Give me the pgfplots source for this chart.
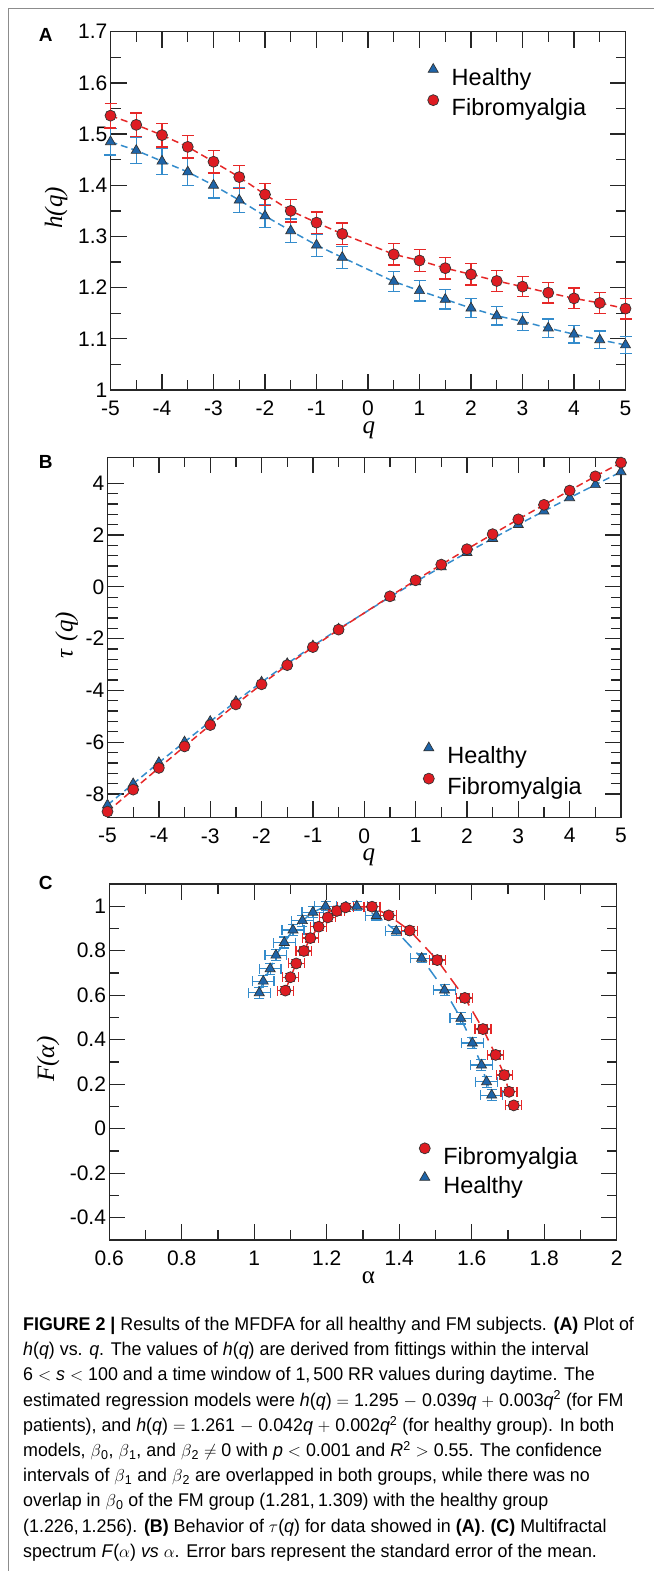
\documentclass[border=0pt]{standalone}
\usepackage{pgfplots}
\pgfplotsset{compat=1.18}
\usepackage{pgfplotstable}
\usepackage{fontspec}
\setmainfont{Liberation Sans}
\newfontfamily\serifit{Liberation Serif}
\newfontfamily\capfont{Liberation Sans}[FakeStretch=0.97]

\definecolor{redF}{RGB}{222,28,34}
\definecolor{redL}{RGB}{230,40,40}
\definecolor{blueF}{RGB}{30,100,168}
\definecolor{blueL}{RGB}{52,140,204}
\definecolor{framegray}{RGB}{140,140,140}

% Panel A: h(q)
\pgfplotstableread{
q h e
-5 1.485 0.026
-4.5 1.468 0.026
-4 1.447 0.026
-3.5 1.426 0.026
-3 1.400 0.025
-2.5 1.371 0.024
-2 1.340 0.023
-1.5 1.311 0.023
-1 1.283 0.022
-0.5 1.259 0.021
0.5 1.212 0.020
1 1.194 0.020
1.5 1.177 0.019
2 1.160 0.019
2.5 1.145 0.018
3 1.134 0.018
3.5 1.121 0.018
4 1.109 0.017
4.5 1.098 0.017
5 1.088 0.017
}\hA
\pgfplotstableread{
q h e
-5 1.536 0.024
-4.5 1.518 0.023
-4 1.498 0.023
-3.5 1.475 0.022
-3 1.446 0.022
-2.5 1.416 0.022
-2 1.382 0.022
-1.5 1.350 0.022
-1 1.327 0.021
-0.5 1.305 0.021
0.5 1.265 0.021
1 1.253 0.021
1.5 1.238 0.021
2 1.226 0.021
2.5 1.213 0.021
3 1.202 0.020
3.5 1.190 0.020
4 1.179 0.020
4.5 1.170 0.020
5 1.159 0.020
}\fA
% Panel B: tau(q)
\pgfplotstableread{
q t
-5 -8.425
-4.5 -7.606
-4 -6.788
-3.5 -5.991
-3 -5.200
-2.5 -4.428
-2 -3.680
-1.5 -2.967
-1 -2.283
-0.5 -1.630
0.5 -0.394
1 0.194
1.5 0.766
2 1.320
2.5 1.863
3 2.402
3.5 2.924
4 3.436
4.5 3.941
5 4.440
}\hB
\pgfplotstableread{
q t
-5 -8.680
-4.5 -7.831
-4 -6.992
-3.5 -6.163
-3 -5.338
-2.5 -4.540
-2 -3.764
-1.5 -3.025
-1 -2.327
-0.5 -1.653
0.5 -0.368
1 0.253
1.5 0.857
2 1.452
2.5 2.033
3 2.606
3.5 3.165
4 3.716
4.5 4.265
5 4.795
}\fB
% Panel C: F(alpha)
\pgfplotstableread{
a f ea ef
1.014 0.611 0.030 0.025
1.025 0.663 0.030 0.025
1.044 0.719 0.030 0.025
1.060 0.780 0.030 0.025
1.083 0.837 0.030 0.025
1.107 0.893 0.030 0.025
1.133 0.935 0.030 0.025
1.162 0.973 0.030 0.025
1.197 1.000 0.030 0.020
1.283 1.000 0.030 0.020
1.337 0.958 0.030 0.020
1.392 0.888 0.030 0.020
1.462 0.766 0.030 0.020
1.525 0.623 0.030 0.025
1.570 0.496 0.030 0.025
1.602 0.385 0.030 0.025
1.627 0.286 0.030 0.025
1.641 0.211 0.030 0.025
1.655 0.151 0.030 0.025
}\hC
\pgfplotstableread{
a f ea ef
1.086 0.621 0.022 0.018
1.100 0.681 0.022 0.018
1.116 0.743 0.022 0.018
1.137 0.799 0.022 0.018
1.155 0.857 0.022 0.018
1.178 0.908 0.022 0.018
1.203 0.950 0.022 0.018
1.228 0.979 0.022 0.018
1.252 0.995 0.022 0.018
1.325 0.998 0.022 0.018
1.371 0.959 0.022 0.018
1.429 0.891 0.022 0.018
1.505 0.758 0.022 0.018
1.581 0.588 0.022 0.018
1.631 0.448 0.022 0.018
1.666 0.332 0.022 0.018
1.690 0.241 0.022 0.018
1.703 0.166 0.022 0.018
1.716 0.105 0.022 0.018
}\fC

\pgfplotsset{
  panel/.style={
    scale only axis, anchor=south west, clip=false,
    axis line style={line width=1.4pt, black!85},
    every tick/.style={line width=1.3pt, black!85},
    major tick length=16pt, minor tick length=10pt,
    tick align=inside,
    tick label style={font=\fontsize{21}{21}\selectfont},
    yticklabel style={inner xsep=3pt, inner ysep=1pt},
    xticklabel style={inner ysep=1pt, yshift=-10pt},
    legend cell align=left,
    legend style={draw=none, fill=none, inner sep=0pt, outer sep=0pt,
      anchor=north west, font=\fontsize{23.5}{23.5}\selectfont,
      nodes={inner sep=0pt}, column sep=13pt, row sep=8pt},
    legend image code/.code={\draw[##1] plot coordinates {(0pt,8pt)};},
    label style={font=\serifit\fontsize{25}{25}\selectfont, inner sep=0pt},
  },
  hser/.style={color=blueL, line width=1.5pt, dash pattern=on 7pt off 4pt,
    mark=triangle*, mark size=5.8pt,
    mark options={solid, fill=blueF, draw=black!80, line width=0.7pt}},
  fser/.style={color=redL, line width=1.5pt, dash pattern=on 7pt off 4pt,
    mark=*, mark size=5.5pt,
    mark options={solid, fill=redF, draw=black!80, line width=0.7pt}},
}

\begin{document}
\begin{tikzpicture}
\useasboundingbox (0,0) rectangle (654pt,-1571pt);
\draw[framegray, line width=1.5pt] (8.3pt,-1571pt) -- (8.3pt,-8.3pt) -- (654pt,-8.3pt);

% ---------------- Panel A ----------------
\begin{axis}[panel, at={(110.5pt,-390pt)}, width=515pt, height=358.3pt,
  xmin=-5, xmax=5, ymin=1, ymax=1.7,
  xtick={-5,-4,-3,-2,-1,0,1,2,3,4,5},
  xticklabels={-5,-4,-3,-2,-1,0,1,2,3,4,5},
  ytick={1,1.1,1.2,1.3,1.4,1.5,1.6,1.7},
  yticklabels={1,1.1,1.2,1.3,1.4,1.5,1.6,1.7},
  minor x tick num=1, minor y tick num=1,
  xlabel={\itshape q}, ylabel={\itshape h(q)},
  xlabel style={at={(axis description cs:0.5015,-0.112)}, anchor=center},
  ylabel style={at={(axis description cs:-0.1058,0.508)}, anchor=center},
  legend style={at={(axis description cs:0.616,0.911)}},
]
\addplot[hser, error bars/.cd, y dir=both, y explicit,
  error bar style={solid, line width=1.3pt, blueL},
  error mark options={rotate=90, solid, line width=1.3pt, blueL, mark size=6pt}]
  table[x=q, y=h, y error=e] {\hA};
\addlegendentry{Healthy}
\addplot[fser, error bars/.cd, y dir=both, y explicit,
  error bar style={solid, line width=1.3pt, redL},
  error mark options={rotate=90, solid, line width=1.3pt, redL, mark size=6pt}]
  table[x=q, y=h, y error=e] {\fA};
\addlegendentry{Fibromyalgia}
\end{axis}

% ---------------- Panel B ----------------
\begin{axis}[panel, at={(107.5pt,-817.3pt)}, width=513.5pt, height=360pt,
  xmin=-5, xmax=5, ymin=-8.9, ymax=5,
  xtick={-5,-4,-3,-2,-1,0,1,2,3,4,5},
  xticklabels={-5,-4,-3,-2,-1,0,1,2,3,4,5},
  ytick={-8,-6,-4,-2,0,2,4},
  yticklabels={-8,-6,-4,-2,0,2,4},
  minor x tick num=1, minor y tick num=4,
  xlabel={\itshape q}, ylabel={\itshape τ\,\,(q)},
  xlabel style={at={(axis description cs:0.509,-0.11)}, anchor=center},
  ylabel style={at={(axis description cs:-0.0798,0.506)}, anchor=center},
  legend style={at={(axis description cs:0.615,0.209)}},
]
\addplot[hser] table[x=q, y=t] {\hB};
\addlegendentry{Healthy}
\addplot[fser] table[x=q, y=t] {\fB};
\addlegendentry{Fibromyalgia}
\end{axis}

% ---------------- Panel C ----------------
\begin{axis}[panel, at={(109.2pt,-1240pt)}, width=507.5pt, height=356pt,
  xmin=0.6, xmax=2, ymin=-0.5, ymax=1.1,
  xtick={0.6,0.8,1,1.2,1.4,1.6,1.8,2},
  xticklabels={0.6,0.8,1,1.2,1.4,1.6,1.8,2},
  ytick={-0.4,-0.2,0,0.2,0.4,0.6,0.8,1},
  yticklabels={-0.4,-0.2,0,0.2,0.4,0.6,0.8,1},
  minor x tick num=1, minor y tick num=1,
  xlabel={α}, ylabel={\itshape F(α)},
  xlabel style={at={(axis description cs:0.511,-0.106)}, anchor=center},
  ylabel style={at={(axis description cs:-0.1206,0.508)}, anchor=center},
  legend style={at={(axis description cs:0.611,0.273)}, row sep=6pt},
  reverse legend,
]
\addplot[hser, dash pattern=on 13pt off 7pt, error bars/.cd,
  x dir=both, x explicit, y dir=both, y explicit,
  error bar style={solid, line width=1.3pt, blueL},
  error mark options={rotate=90, solid, line width=1.3pt, blueL, mark size=5pt}]
  table[x=a, y=f, x error=ea, y error=ef] {\hC};
\addlegendentry{Healthy}
\addplot[fser, dash pattern=on 13pt off 7pt, error bars/.cd,
  x dir=both, x explicit, y dir=both, y explicit,
  error bar style={solid, line width=1.3pt, redL},
  error mark options={rotate=90, solid, line width=1.3pt, redL, mark size=5pt}]
  table[x=a, y=f, x error=ea, y error=ef] {\fC};
\addlegendentry{Fibromyalgia}
\end{axis}

% panel letters
\node[font=\bfseries\fontsize{19}{19}\selectfont, inner sep=0pt] at (45.8pt,-35pt) {A};
\node[font=\bfseries\fontsize{19}{19}\selectfont, inner sep=0pt] at (45.8pt,-461.7pt) {B};
\node[font=\bfseries\fontsize{19}{19}\selectfont, inner sep=0pt] at (45.8pt,-883.3pt) {C};

% caption
\begin{scope}[every node/.style={anchor=base west, inner sep=0pt,
    font=\capfont\fontsize{18.4}{25}\selectfont}]
\node at (23pt,-1330.5pt) {\textbf{FIGURE 2 |} Results of the MFDFA for all healthy and FM subjects. \textbf{(A)} Plot of};
\node at (23pt,-1355.7pt) {\textit{h}(\textit{q}) vs. \textit{q}. The values of \textit{h}(\textit{q}) are derived from fittings within the interval};
\node at (23pt,-1380.9pt) {6 $<$ \textit{s} $<$ 100 and a time window of 1,\,500 RR values during daytime. The};
\node at (23pt,-1406.1pt) {estimated regression models were \textit{h}(\textit{q}) $=$ 1.295 $-$ 0.039\textit{q} $+$ 0.003\textit{q}\textsuperscript{2} (for FM};
\node at (23pt,-1431.3pt) {patients), and \textit{h}(\textit{q}) $=$ 1.261 $-$ 0.042\textit{q} $+$ 0.002\textit{q}\textsuperscript{2} (for healthy group). In both};
\node at (23pt,-1456.5pt) {models, $\beta$\textsubscript{0}, $\beta$\textsubscript{1}, and $\beta$\textsubscript{2} $\neq$ 0 with \textit{p} $<$ 0.001 and \textit{R}\textsuperscript{2} $>$ 0.55. The confidence};
\node at (23pt,-1481.7pt) {intervals of $\beta$\textsubscript{1} and $\beta$\textsubscript{2} are overlapped in both groups, while there was no};
\node at (23pt,-1506.9pt) {overlap in $\beta$\textsubscript{0} of the FM group (1.281,\,1.309) with the healthy group};
\node at (23pt,-1532.1pt) {(1.226,\,1.256). \textbf{(B)} Behavior of $\tau$(\textit{q}) for data showed in \textbf{(A)}. \textbf{(C)} Multifractal};
\node at (23pt,-1557.3pt) {spectrum \textit{F}($\alpha$) \textit{vs} $\alpha$. Error bars represent the standard error of the mean.};
\end{scope}
\end{tikzpicture}
\end{document}
